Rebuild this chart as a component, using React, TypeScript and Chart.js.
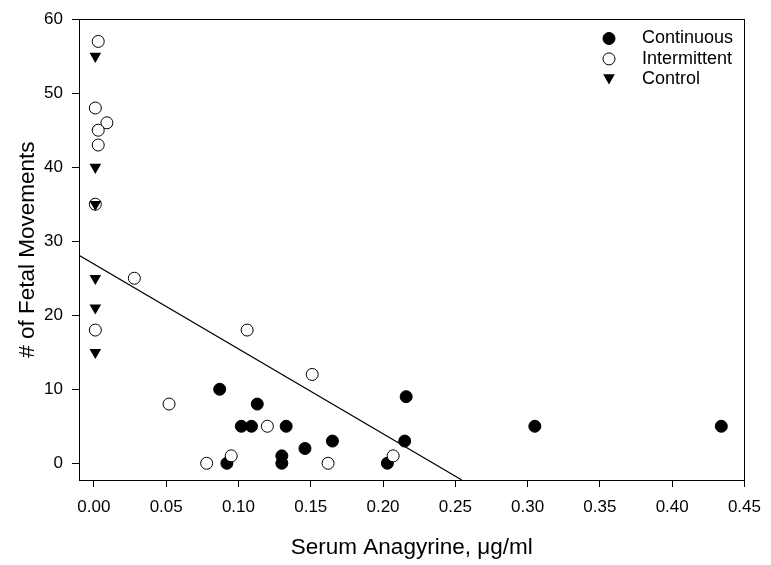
import React, { useEffect, useRef } from "react";
import { Chart, registerables } from "chart.js";

Chart.register(...registerables);

// ---- data ----
const continuousX = [0.087, 0.092, 0.102, 0.109, 0.113, 0.13, 0.13, 0.133, 0.146, 0.165, 0.203, 0.215, 0.216, 0.305, 0.434];
const continuousY = [10, 0, 5, 5, 8, 1, 0, 5, 2, 3, 0, 3, 9, 5, 5];

const intermittentX = [0.003, 0.001, 0.009, 0.003, 0.003, 0.001, 0.028, 0.001, 0.052, 0.106, 0.151, 0.12, 0.078, 0.095, 0.162, 0.207];
const intermittentY = [57, 48, 46, 45, 43, 35, 25, 18, 8, 18, 12, 5, 0, 1, 0, 1];

const controlX = [0.001, 0.001, 0.001, 0.001, 0.001, 0.001];
const controlY = [55, 40, 35, 25, 21, 15];

const fitX = [-0.0103, 0.2545];
const fitY = [28.1, -2.26];

const xTicks = [0, 0.05, 0.1, 0.15, 0.2, 0.25, 0.3, 0.35, 0.4, 0.45];
const yTicks = [0, 10, 20, 30, 40, 50, 60];

const seriesNames = ["Continuous", "Intermittent", "Control"];

const FONT = "'Liberation Sans', Arial, Helvetica, sans-serif";

const pts = (xs: number[], ys: number[]) => xs.map((x, i) => ({ x, y: ys[i] }));

const frameAndLegend = {
  id: "frameAndLegend",
  afterDraw(chart: any) {
    const { ctx, chartArea } = chart;
    const { left, right, top, bottom } = chartArea;
    ctx.save();
    ctx.strokeStyle = "#000";
    ctx.lineWidth = 1;
    ctx.strokeRect(Math.round(left) + 0.5, Math.round(top) + 0.5, Math.round(right - left), Math.round(bottom - top));

    // legend inside plot, top right
    const mx = 609;
    const tx = 642;
    const y0 = 38.5;
    const step = 20.4;
    ctx.font = `18px ${FONT}`;
    ctx.textBaseline = "middle";
    ctx.textAlign = "left";
    seriesNames.forEach((name, i) => {
      const y = y0 + i * step;
      ctx.beginPath();
      if (i === 0) {
        ctx.arc(mx, y, 6, 0, Math.PI * 2);
        ctx.fillStyle = "#000";
        ctx.fill();
        ctx.stroke();
      } else if (i === 1) {
        ctx.arc(mx, y, 6, 0, Math.PI * 2);
        ctx.fillStyle = "#fff";
        ctx.fill();
        ctx.stroke();
      } else {
        const r = 6.7;
        const cy = y - 1.6;
        ctx.moveTo(mx - r * 0.866, cy - r * 0.5);
        ctx.lineTo(mx + r * 0.866, cy - r * 0.5);
        ctx.lineTo(mx, cy + r);
        ctx.closePath();
        ctx.fillStyle = "#000";
        ctx.fill();
      }
      ctx.fillStyle = "#000";
      ctx.fillText(name, tx, y);
    });
    ctx.restore();
  },
};

export default function App() {
  const ref = useRef<HTMLCanvasElement>(null);

  useEffect(() => {
    if (!ref.current) return;
    const chart = new Chart(ref.current, {
      type: "scatter",
      data: {
        datasets: [
          {
            label: "Control",
            data: pts(controlX, controlY),
            pointStyle: "triangle",
            rotation: 180,
            pointRadius: 6.7,
            backgroundColor: "#000",
            borderColor: "#000",
            borderWidth: 0,
            order: 0,
          },
          {
            label: "Intermittent",
            data: pts(intermittentX, intermittentY),
            pointStyle: "circle",
            pointRadius: 6,
            backgroundColor: "#fff",
            borderColor: "#000",
            borderWidth: 1,
            order: 1,
          },
          {
            label: "Continuous",
            data: pts(continuousX, continuousY),
            pointStyle: "circle",
            pointRadius: 6,
            backgroundColor: "#000",
            borderColor: "#000",
            borderWidth: 1,
            order: 2,
          },
          {
            label: "Fit",
            data: pts(fitX, fitY),
            showLine: true,
            pointRadius: 0,
            borderColor: "#000",
            borderWidth: 1.2,
            backgroundColor: "#000",
            order: 3,
          } as any,
        ],
      },
      options: {
        responsive: false,
        animation: false,
        devicePixelRatio: 1,
        layout: { padding: { top: 12, right: 22, bottom: 0, left: 0 } },
        plugins: {
          legend: { display: false },
          tooltip: { enabled: false },
        },
        scales: {
          x: {
            type: "linear",
            min: -0.0103,
            max: 0.45,
            afterBuildTicks: (s: any) => {
              s.ticks = xTicks.map((v) => ({ value: v }));
            },
            afterFit: (s: any) => {
              s.height = 85;
            },
            grid: {
              display: true,
              drawOnChartArea: false,
              drawTicks: true,
              tickLength: 7,
              color: "#000",
              lineWidth: 1,
            },
            border: { display: true, color: "#000", width: 1 },
            ticks: {
              color: "#000",
              padding: 10,
              maxRotation: 0,
              font: { family: FONT, size: 17 },
              callback: (v: any) => Number(v).toFixed(2),
            },
            title: {
              display: true,
              text: "Serum Anagyrine, μg/ml",
              color: "#000",
              font: { family: FONT, size: 22.5 },
              padding: { top: 0, bottom: 4 },
            },
          },
          y: {
            type: "linear",
            min: -2.26,
            max: 60,
            afterBuildTicks: (s: any) => {
              s.ticks = yTicks.map((v) => ({ value: v }));
            },
            afterFit: (s: any) => {
              s.width = 79;
            },
            grid: {
              display: true,
              drawOnChartArea: false,
              drawTicks: true,
              tickLength: 7,
              color: "#000",
              lineWidth: 1,
            },
            border: { display: true, color: "#000", width: 1 },
            ticks: {
              color: "#000",
              padding: 9,
              font: { family: FONT, size: 17 },
              callback: (v: any) => String(v),
            },
            title: {
              display: true,
              text: "# of Fetal Movements",
              color: "#000",
              font: { family: FONT, size: 22.5 },
              padding: { top: 14, bottom: 0 },
            },
          },
        },
      },
      plugins: [frameAndLegend],
    });
    return () => chart.destroy();
  }, []);

  return (
    <div style={{ position: "fixed", left: 0, top: 0, width: 771, height: 565, background: "#fff" }}>
      <canvas ref={ref} width={771} height={565} style={{ display: "block" }} />
    </div>
  );
}
